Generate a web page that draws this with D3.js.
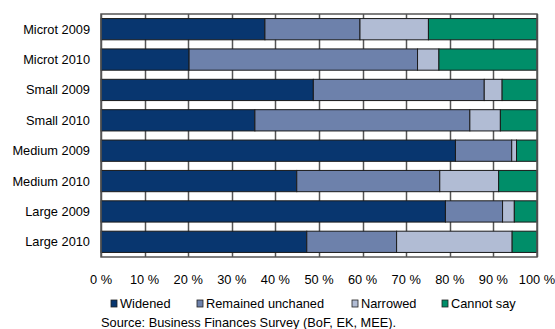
<!DOCTYPE html>
<html lang="en">
<head>
<meta charset="UTF-8">
<script src="https://d3js.org/d3.v7.min.js"></script>
<style>
  body { margin: 0; background: #fff; }
  text { font-family: "Liberation Sans", Arial, sans-serif; fill: #000; }
</style>
</head>
<body>
<div id="chart"></div>
<script>
// categories and series (percent shares)
var categories = ["Microt 2009", "Microt 2010", "Small 2009", "Small 2010",
                  "Medium 2009", "Medium 2010", "Large 2009", "Large 2010"];
var seriesNames = ["Widened", "Remained unchaned", "Narrowed", "Cannot say"];
var widened   = [37.6, 20.2, 48.7, 35.3, 81.3, 44.9, 79.0, 47.2];
var remained  = [21.8, 52.4, 39.2, 49.3, 12.9, 32.8, 13.1, 20.6];
var narrowed  = [15.7,  4.9,  4.1,  7.0,  1.1, 13.5,  2.7, 26.5];
var cannotSay = [24.9, 22.5,  8.0,  8.4,  4.7,  8.8,  5.2,  5.7];
var ticks = [0, 10, 20, 30, 40, 50, 60, 70, 80, 90, 100];
var colors = ["#08366f", "#6d81ab", "#b1bcd4", "#008e69"];

var W = 555, H = 329;
var margin = {top: 14, right: 18, bottom: 72, left: 101};
var width = W - margin.left - margin.right,
    height = H - margin.top - margin.bottom;
var fs = "12.8px";

var svg = d3.select("#chart").append("svg")
    .attr("width", W).attr("height", H);
var g = svg.append("g")
    .attr("transform", "translate(" + margin.left + "," + margin.top + ")");

var x = d3.scaleLinear().domain([0, 100]).range([0, width]);
var y = d3.scaleBand().domain(categories).range([0, height])
    .paddingInner(0.3).paddingOuter(0.15);

// table for the stack layout
var rows = categories.map(function(c, i) {
  return {cat: c, "Widened": widened[i], "Remained unchaned": remained[i],
          "Narrowed": narrowed[i], "Cannot say": cannotSay[i]};
});
var stacked = d3.stack().keys(seriesNames)(rows);

// vertical gridlines
g.selectAll(".grid")
  .data(ticks)
  .enter().append("line")
    .attr("x1", function(d) { return Math.round(x(d)) + 0.5; })
    .attr("x2", function(d) { return Math.round(x(d)) + 0.5; })
    .attr("y1", 0).attr("y2", height)
    .attr("stroke", "#555").attr("stroke-width", 1.5);

// bars
g.selectAll(".series")
  .data(stacked)
  .enter().append("g")
    .attr("fill", function(d, i) { return colors[i]; })
  .selectAll("rect")
  .data(function(d) { return d; })
  .enter().append("rect")
    .attr("x", function(d) { return x(d[0]); })
    .attr("y", function(d) { return y(d.data.cat); })
    .attr("width", function(d) { return x(d[1]) - x(d[0]); })
    .attr("height", y.bandwidth())
    .attr("stroke", "#1a1a1a").attr("stroke-width", 1);

// frame
g.append("rect")
  .attr("x", 0).attr("y", 0).attr("width", width).attr("height", height)
  .attr("fill", "none").attr("stroke", "#555").attr("stroke-width", 1.5);

// category labels
g.selectAll(".cat")
  .data(categories)
  .enter().append("text")
    .attr("x", -11)
    .attr("y", function(d) { return y(d) + y.bandwidth() / 2; })
    .attr("dy", "0.35em")
    .attr("text-anchor", "end")
    .attr("font-size", fs)
    .text(function(d) { return d; });

// x tick labels
g.selectAll(".tick")
  .data(ticks)
  .enter().append("text")
    .attr("x", function(d) { return x(d); })
    .attr("y", height + 23)
    .attr("dy", "0.35em")
    .attr("text-anchor", "middle")
    .attr("font-size", fs)
    .text(function(d) { return d + " %"; });

// legend
var legendX = [111, 197, 352, 442];
var legend = svg.selectAll(".legend")
  .data(seriesNames)
  .enter().append("g")
    .attr("transform", function(d, i) { return "translate(" + legendX[i] + ",304)"; });
legend.append("rect")
  .attr("x", 0).attr("y", -4).attr("width", 6).attr("height", 7)
  .attr("fill", function(d, i) { return colors[i]; })
  .attr("stroke", "#222").attr("stroke-width", 0.8);
legend.append("text")
  .attr("x", 9).attr("dy", "0.35em")
  .attr("font-size", fs)
  .text(function(d) { return d; });

// source
svg.append("text")
  .attr("x", 101).attr("y", 323).attr("dy", "0.35em")
  .attr("font-size", fs)
  .text("Source: Business Finances Survey (BoF, EK, MEE).");
</script>
</body>
</html>
